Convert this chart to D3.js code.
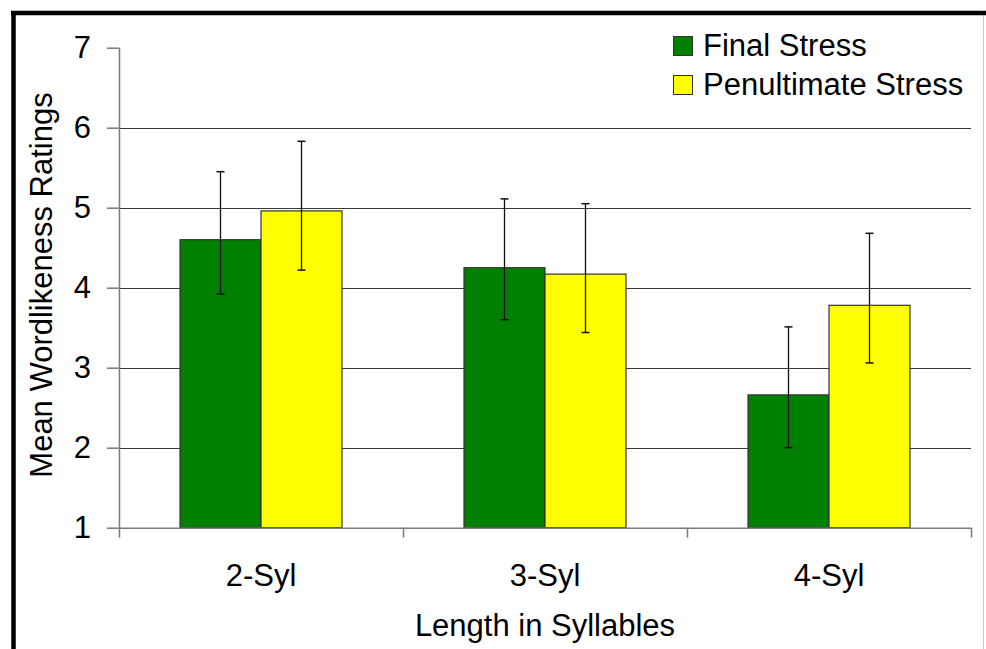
<!DOCTYPE html>
<html>
<head>
<meta charset="utf-8">
<script src="https://cdn.jsdelivr.net/npm/d3@7"></script>
<style>
  html, body { margin: 0; padding: 0; background: #fff; }
  svg { display: block; }
  text { font-family: "Liberation Sans", Arial, sans-serif; fill: #000; }
</style>
</head>
<body>
<svg id="chart" width="986" height="649"></svg>
<script>
// Word length categories
const categories = ["2-Syl", "3-Syl", "4-Syl"];
// Series names
const seriesNames = ["Final Stress", "Penultimate Stress"];
// Mean ratings per series
const finalStress = [4.60, 4.25, 2.66];
const penultimateStress = [4.96, 4.17, 3.78];
// Error bar ends per series
const finalUpper = [5.45, 5.11, 3.51];
const finalLower = [3.92, 3.60, 2.00];
const penultUpper = [5.83, 5.05, 4.68];
const penultLower = [4.22, 3.44, 3.06];
// Y axis ticks
const yTicks = [1, 2, 3, 4, 5, 6, 7];

const colors = ["#008000", "#ffff00"];

const svg = d3.select("#chart");

// Frame around the figure
svg.append("rect").attr("x", 0).attr("y", 0).attr("width", 986).attr("height", 649).attr("fill", "#fff");
svg.append("line").attr("x1", 983.5).attr("x2", 983.5).attr("y1", 13).attr("y2", 649)
  .attr("stroke", "#c8c8c8").attr("stroke-width", 1);
svg.append("line").attr("x1", 11).attr("x2", 986).attr("y1", 13).attr("y2", 13)
  .attr("stroke", "#000").attr("stroke-width", 4.5);
svg.append("line").attr("x1", 13.5).attr("x2", 13.5).attr("y1", 11).attr("y2", 649)
  .attr("stroke", "#000").attr("stroke-width", 4.5);

const plot = { left: 119, right: 971, top: 47.7, bottom: 527.7 };

const x = d3.scaleBand().domain(categories).range([plot.left, plot.right]).padding(0);
const groupInset = 61;
const xs = d3.scaleBand().domain(seriesNames)
  .range([groupInset, x.bandwidth() - groupInset]).padding(0);
const y = d3.scaleLinear().domain([1, 7]).range([plot.bottom, plot.top]);

// Horizontal gridlines (inner values only; the top of the range has just a tick)
svg.append("g").selectAll("line")
  .data(yTicks.filter(d => d > 1 && d < 7))
  .join("line")
  .attr("x1", plot.left).attr("x2", plot.right)
  .attr("y1", d => Math.round(y(d)) + 0.5).attr("y2", d => Math.round(y(d)) + 0.5)
  .attr("stroke", "#3a3a3a").attr("stroke-width", 1.2);

// Bars
const rows = categories.map((c, i) => ({
  cat: c,
  vals: [
    { s: seriesNames[0], v: finalStress[i], lo: finalLower[i], hi: finalUpper[i], c: colors[0] },
    { s: seriesNames[1], v: penultimateStress[i], lo: penultLower[i], hi: penultUpper[i], c: colors[1] }
  ]
}));

const groups = svg.append("g").selectAll("g")
  .data(rows).join("g")
  .attr("transform", d => `translate(${x(d.cat)},0)`);

groups.selectAll("rect")
  .data(d => d.vals).join("rect")
  .attr("x", d => xs(d.s))
  .attr("y", d => y(d.v))
  .attr("width", xs.bandwidth())
  .attr("height", d => y(1) - y(d.v))
  .attr("fill", d => d.c)
  .attr("stroke", "#333")
  .attr("stroke-width", 1.2);

// Error bars
const eb = groups.selectAll("g.err")
  .data(d => d.vals).join("g").attr("class", "err");
const cx = d => xs(d.s) + xs.bandwidth() / 2;
eb.append("line")
  .attr("x1", cx).attr("x2", cx)
  .attr("y1", d => y(d.hi)).attr("y2", d => y(d.lo))
  .attr("stroke", "#111").attr("stroke-width", 1.3);
eb.append("line")
  .attr("x1", d => cx(d) - 4).attr("x2", d => cx(d) + 4)
  .attr("y1", d => y(d.hi)).attr("y2", d => y(d.hi))
  .attr("stroke", "#111").attr("stroke-width", 1.5);
eb.append("line")
  .attr("x1", d => cx(d) - 4).attr("x2", d => cx(d) + 4)
  .attr("y1", d => y(d.lo)).attr("y2", d => y(d.lo))
  .attr("stroke", "#111").attr("stroke-width", 1.5);

// Y axis
const yAxis = svg.append("g")
  .attr("transform", `translate(${plot.left},0)`)
  .call(d3.axisLeft(y).tickValues(yTicks).tickSize(12).tickPadding(16).tickFormat(d3.format("d")));
yAxis.select(".domain").attr("stroke", "#7a7a7a").attr("stroke-width", 1.5)
  .attr("d", `M0.5,${plot.top}V${plot.bottom}`);
yAxis.selectAll(".tick line").attr("stroke", "#7a7a7a").attr("stroke-width", 1.5);
yAxis.selectAll(".tick text").attr("font-size", 31).attr("fill", "#000")
  .attr("font-family", "'Liberation Sans', Arial, sans-serif");

// X axis: boundary ticks between categories
const bounds = d3.scaleLinear().domain([0, categories.length]).range([plot.left, plot.right]);
const xAxis = svg.append("g")
  .attr("transform", `translate(0,${plot.bottom})`)
  .call(d3.axisBottom(bounds).tickValues(d3.range(categories.length + 1)).tickSize(10).tickFormat(""));
xAxis.select(".domain").attr("stroke", "#7a7a7a").attr("stroke-width", 1.5)
  .attr("d", `M${plot.left},0.5H${plot.right}`);
xAxis.selectAll(".tick line").attr("stroke", "#7a7a7a").attr("stroke-width", 1.5);

// Category labels
const xLabels = svg.append("g")
  .attr("transform", `translate(0,${plot.bottom})`)
  .call(d3.axisBottom(x).tickSize(0).tickPadding(36));
xLabels.select(".domain").remove();
xLabels.selectAll(".tick text").attr("font-size", 31).attr("fill", "#000")
  .attr("font-family", "'Liberation Sans', Arial, sans-serif");

// Axis titles
svg.append("text")
  .attr("x", (plot.left + plot.right) / 2).attr("y", 636)
  .attr("text-anchor", "middle").attr("font-size", 31)
  .text("Length in Syllables");
svg.append("text")
  .attr("transform", "translate(52,285) rotate(-90)")
  .attr("text-anchor", "middle").attr("font-size", 31)
  .text("Mean Wordlikeness Ratings");

// Legend
const legend = svg.append("g").attr("transform", "translate(673,0)");
const li = legend.selectAll("g").data(seriesNames).join("g")
  .attr("transform", (d, i) => `translate(0,${56 + i * 39})`);
li.append("rect")
  .attr("x", 0.5).attr("y", -19.5).attr("width", 19).attr("height", 19)
  .attr("fill", (d, i) => colors[i]).attr("stroke", "#333").attr("stroke-width", 1);
li.append("text")
  .attr("x", 30).attr("y", 0).attr("font-size", 31)
  .text(d => d);
</script>
</body>
</html>
